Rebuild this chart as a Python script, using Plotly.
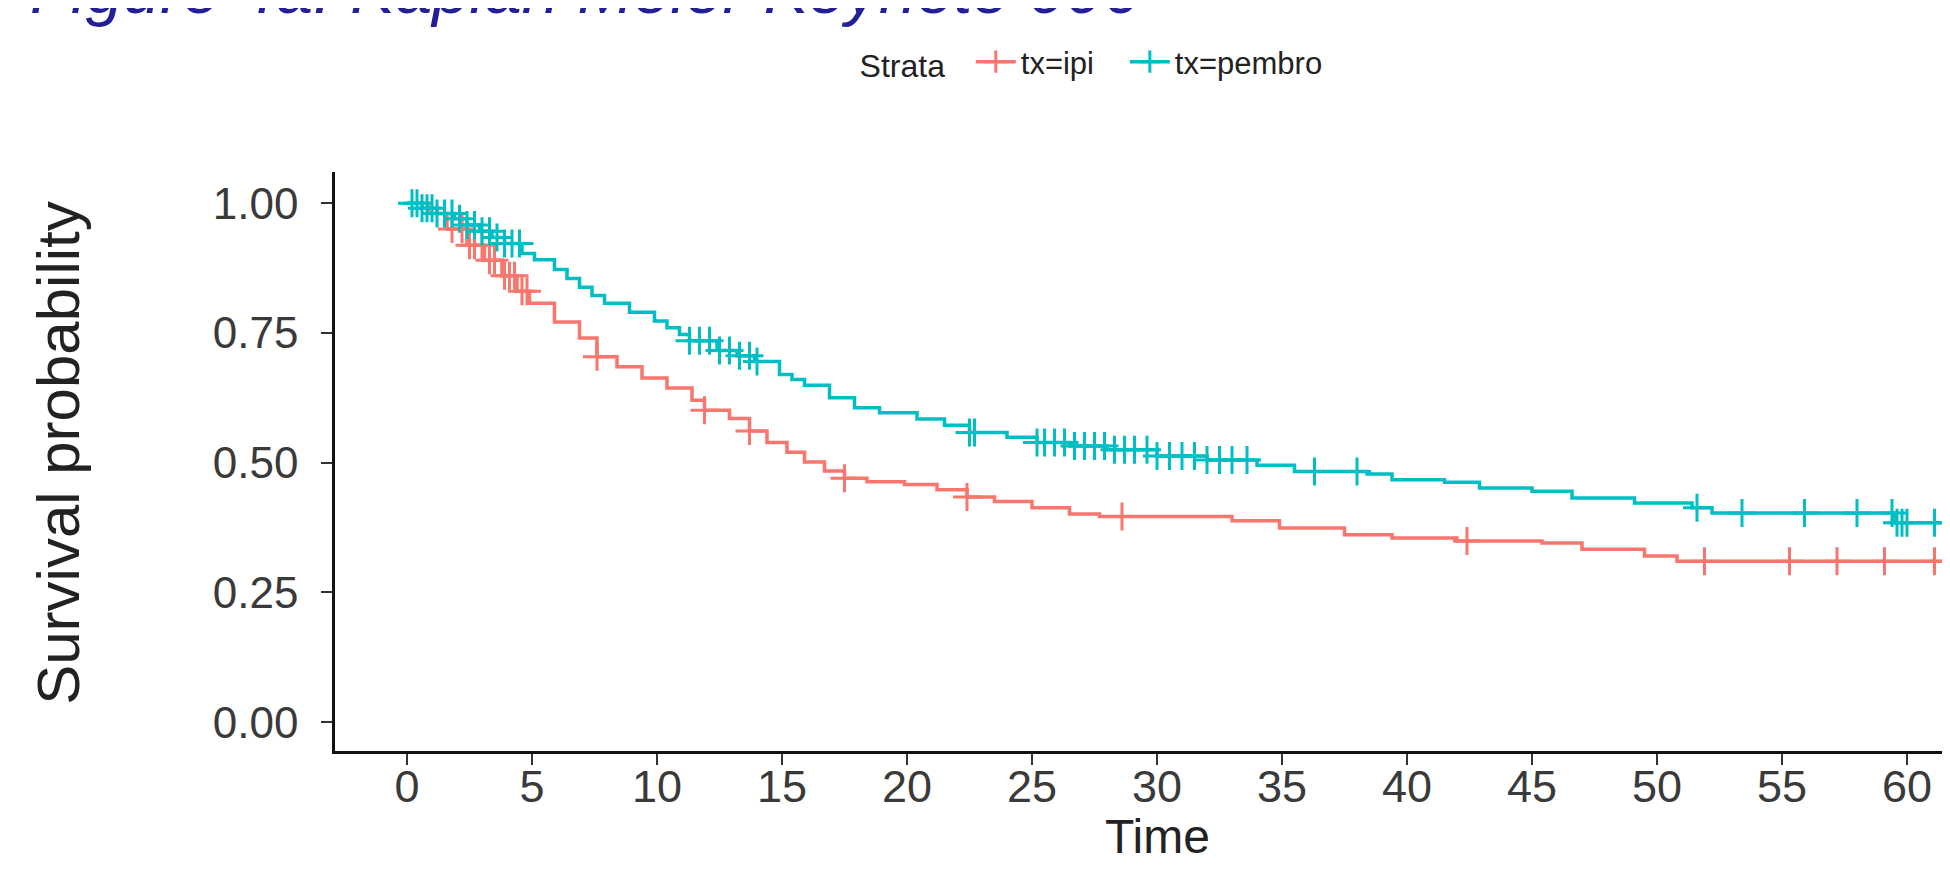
import plotly.graph_objects as go

# ---- data ----
ipi_t = [0, 0.85, 1.6, 2.4, 3.1, 3.8, 4.4, 4.9, 5.9, 6.9, 7.6, 8.4, 9.4, 10.4, 11.4, 11.9,
         12.9, 13.7, 14.4, 15.2, 15.9, 16.7, 17.5, 18.4, 19.9, 21.2, 22.4, 23.5, 25.0, 26.5,
         27.7, 33.0, 34.9, 37.5, 39.4, 42.0, 45.4, 47.0, 49.5, 50.8, 63]
ipi_s = [1.0, 0.98, 0.95, 0.919, 0.89, 0.86, 0.83, 0.807, 0.771, 0.74, 0.704, 0.685, 0.663,
         0.644, 0.62, 0.601, 0.585, 0.561, 0.539, 0.52, 0.501, 0.484, 0.47, 0.463, 0.458, 0.448,
         0.434, 0.425, 0.413, 0.401, 0.396, 0.388, 0.374, 0.361, 0.355, 0.349, 0.345, 0.333,
         0.32, 0.31, 0.31]
ipi_cens = [1.8, 2.2, 2.5, 2.7, 3.0, 3.3, 3.5, 3.9, 4.1, 4.3, 4.6, 4.8, 7.6, 11.9, 13.7,
            17.5, 22.4, 28.6, 42.4, 51.9, 55.3, 57.2, 59.1, 61.1, 62.2]

pem_t = [0, 0.6, 1.2, 1.9, 2.4, 2.9, 3.4, 3.9, 4.6, 5.1, 5.9, 6.4, 6.9, 7.4, 7.9, 8.9, 9.9,
         10.4, 10.9, 11.3, 12.4, 13.2, 13.9, 14.9, 15.4, 15.9, 16.9, 17.9, 18.9, 20.4, 21.5,
         22.5, 24.0, 25.2, 26.5, 28.0, 30.0, 32.0, 34.0, 35.5, 38.4, 39.4, 41.5, 42.9, 45.0,
         46.6, 49.1, 51.4, 52.2, 59.5, 63]
pem_s = [1.0, 0.99, 0.98, 0.97, 0.958, 0.946, 0.934, 0.922, 0.903, 0.891, 0.872, 0.855, 0.838,
         0.822, 0.807, 0.79, 0.773, 0.76, 0.747, 0.735, 0.716, 0.706, 0.695, 0.67, 0.66, 0.649,
         0.625, 0.606, 0.596, 0.584, 0.572, 0.558, 0.549, 0.539, 0.532, 0.525, 0.513, 0.505,
         0.495, 0.483, 0.478, 0.467, 0.462, 0.451, 0.445, 0.432, 0.422, 0.413, 0.403, 0.384,
         0.384]
pem_cens = [0.2, 0.4, 0.6, 0.8, 1.0, 1.2, 1.5, 1.8, 2.1, 2.4, 2.7, 3.0, 3.3, 3.6, 3.9, 4.2,
            4.5, 11.3, 11.7, 12.1, 12.5, 12.9, 13.3, 13.7, 14.0, 22.5, 22.7, 25.2, 25.5, 25.9,
            26.3, 26.7, 27.1, 27.5, 27.9, 28.3, 28.7, 29.1, 29.6, 30.0, 30.5, 31.0, 31.5, 32.0,
            32.5, 33.0, 33.6, 36.3, 38.0, 51.6, 53.4, 55.9, 58.0, 59.4, 59.6, 59.8, 60.0, 61.1,
            62.2]

strata = ["tx=ipi", "tx=pembro"]
colors = ["#F8766D", "#00BFC4"]
x_ticks = list(range(0, 65, 5))
y_ticks = [0, 0.25, 0.5, 0.75, 1.0]


def step_value(ts, ss, t):
    v = ss[0]
    for ti, si in zip(ts, ss):
        if ti <= t:
            v = si
        else:
            break
    return v


FONT = "Liberation Sans, Arial, sans-serif"
MARK = dict(symbol="cross-thin", size=20)
NBSP = "\u00a0"

fig = go.Figure()
legend_names = [strata[0] + NBSP * 3, strata[1]]
for name, lname, ts, ss, cens, col in [(strata[0], legend_names[0], ipi_t, ipi_s, ipi_cens, colors[0]),
                                       (strata[1], legend_names[1], pem_t, pem_s, pem_cens, colors[1])]:
    fig.add_trace(go.Scatter(x=ts, y=ss, mode="lines", line=dict(color=col, width=3.5, shape="hv"),
                             name=name, legendgroup=name, showlegend=False))
    fig.add_trace(go.Scatter(x=cens, y=[step_value(ts, ss, c) for c in cens], mode="markers",
                             marker=dict(**MARK, color=col, line=dict(width=3, color=col)),
                             name=name, legendgroup=name, showlegend=False))
    # legend entry: line with a cross, as in the reference key
    fig.add_trace(go.Scatter(x=[None], y=[None], mode="lines+markers",
                             line=dict(color=col, width=3.5),
                             marker=dict(**MARK, color=col, line=dict(width=3, color=col)),
                             name=lname, legendgroup=name, showlegend=True))

x0, ppu = 399.0, 25.0   # pixel of t=0 and pixels per unit
top, bottom = 164, 133
fig.update_layout(
    width=1950, height=876, autosize=False,
    margin=dict(l=327, r=0, t=top, b=bottom),
    paper_bgcolor="white", plot_bgcolor="white",
    showlegend=True,
    legend=dict(orientation="h", x=0.322, xanchor="left", y=1.19, yanchor="middle",
                title=dict(text="Strata" + NBSP * 2, font=dict(family=FONT, size=32, color="#222")),
                font=dict(family=FONT, size=31, color="#222"),
                itemwidth=40, valign="middle", bgcolor="rgba(0,0,0,0)"),
    xaxis=dict(range=[(327 - x0) / ppu, (1950 - x0) / ppu], tickvals=x_ticks,
               ticktext=[str(v) for v in x_ticks],
               showgrid=False, zeroline=False, showline=True, linecolor="#111", linewidth=2.5,
               ticks="outside", ticklen=11, tickwidth=2, tickcolor="#333",
               tickfont=dict(family=FONT, size=45, color="#3a3a3a"),
               ticklabelstandoff=-17),
    yaxis=dict(range=[-0.0556, 1.06], tickvals=y_ticks, tickformat=".2f",
               showgrid=False, zeroline=False, showline=True, linecolor="#111", linewidth=2.5,
               ticks="outside", ticklen=11, tickwidth=2, tickcolor="#333",
               tickfont=dict(family=FONT, size=44, color="#3a3a3a"),
               ticklabelstandoff=14),
)

plot_h = 876 - top - bottom
fig.add_annotation(text="Survival probability", textangle=-90, xref="paper", yref="paper",
                   x=(51 - 327) / 1623, y=0.515, xanchor="center", yanchor="middle",
                   showarrow=False, font=dict(family=FONT, size=60, color="#222"))
fig.add_annotation(text="Time", xref="x", yref="paper", x=30, y=-(828 - (876 - bottom)) / plot_h,
                   xanchor="center", yanchor="middle", showarrow=False,
                   font=dict(family=FONT, size=48, color="#222"))
fig.add_annotation(text="<i>Figure 4a: Kaplan Meier Keynote 006</i>", xref="paper", yref="paper",
                   x=(20 - 327) / 1623, y=1 + (top + 19) / plot_h, xanchor="left", yanchor="middle",
                   showarrow=False, font=dict(family=FONT, size=67, color="#231f96"))

fig.write_html("out.html")
